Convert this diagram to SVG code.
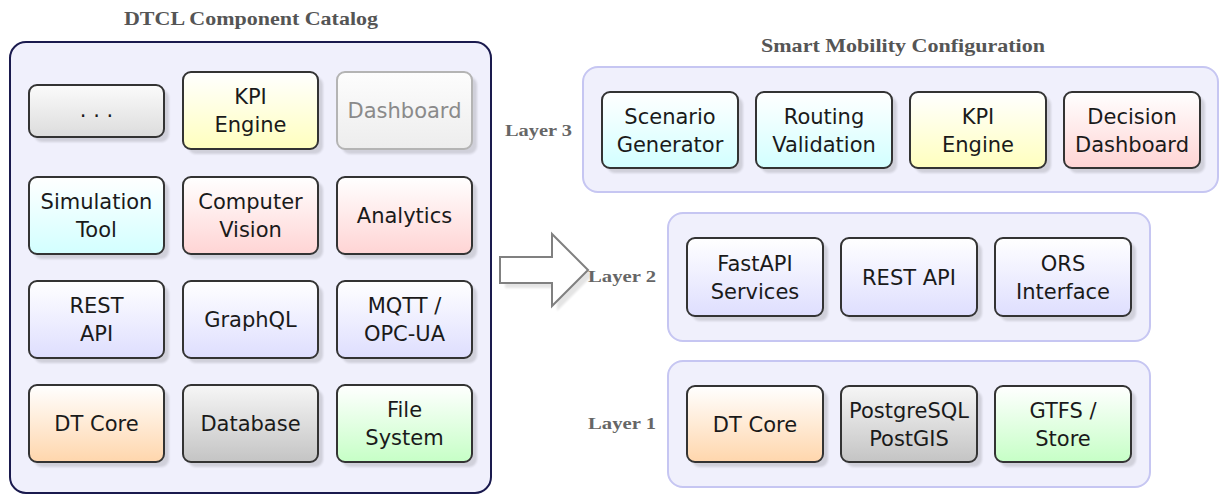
<svg xmlns="http://www.w3.org/2000/svg" width="1228" height="502" viewBox="0 0 1228 502">
<style>
.title{font-family:"Liberation Serif","DejaVu Serif",serif;font-weight:bold;fill:#555;font-size:19px}
.layer{font-family:"Liberation Serif","DejaVu Serif",serif;font-weight:bold;fill:#666;font-size:17px}
.lbl{font-family:"DejaVu Sans","Liberation Sans",sans-serif;font-size:21px;fill:#1a1a1a;text-anchor:middle}
.node{stroke:#333;stroke-width:2}
.shadow{fill:#000;opacity:0.13;filter:url(#blur)}
.box{fill:#f0f0fc;stroke:#c6c6f2;stroke-width:2}
</style>
<defs>
<filter id="blur" x="-10%" y="-10%" width="120%" height="120%"><feGaussianBlur stdDeviation="1.2"/></filter>
<linearGradient id="gGray" x1="0" y1="0" x2="0" y2="1"><stop offset="0" stop-color="#fbfbfb"/><stop offset="1" stop-color="#dcdcdc"/></linearGradient>
<linearGradient id="gYellow" x1="0" y1="0" x2="0" y2="1"><stop offset="0" stop-color="#ffffff"/><stop offset="1" stop-color="#ffffbe"/></linearGradient>
<linearGradient id="gCyan" x1="0" y1="0" x2="0" y2="1"><stop offset="0" stop-color="#ffffff"/><stop offset="1" stop-color="#d2ffff"/></linearGradient>
<linearGradient id="gPink" x1="0" y1="0" x2="0" y2="1"><stop offset="0" stop-color="#ffffff"/><stop offset="1" stop-color="#ffd4d4"/></linearGradient>
<linearGradient id="gLav" x1="0" y1="0" x2="0" y2="1"><stop offset="0" stop-color="#ffffff"/><stop offset="1" stop-color="#dedefe"/></linearGradient>
<linearGradient id="gOrange" x1="0" y1="0" x2="0" y2="1"><stop offset="0" stop-color="#ffffff"/><stop offset="1" stop-color="#ffd6ac"/></linearGradient>
<linearGradient id="gDb" x1="0" y1="0" x2="0" y2="1"><stop offset="0" stop-color="#f6f6f6"/><stop offset="1" stop-color="#c4c4c4"/></linearGradient>
<linearGradient id="gGreen" x1="0" y1="0" x2="0" y2="1"><stop offset="0" stop-color="#ffffff"/><stop offset="1" stop-color="#c6ffc6"/></linearGradient>
<linearGradient id="gDash" x1="0" y1="0" x2="0" y2="1"><stop offset="0" stop-color="#fdfdfd"/><stop offset="1" stop-color="#ededed"/></linearGradient>
</defs>
<rect width="1228" height="502" fill="#ffffff"/>

<!-- Catalog -->
<g id="catalog">
<text class="title" x="251" y="25" text-anchor="middle" textLength="254" lengthAdjust="spacingAndGlyphs">DTCL Component Catalog</text>
<rect x="10" y="42" width="481" height="451" rx="16" fill="#f0f0fc" stroke="#1a1a4e" stroke-width="2"/>
</g>

<g id="cat-dots">
<rect class="shadow" x="34" y="90" width="135" height="52" rx="8"/>
<rect class="node" x="29" y="85" width="135" height="52" rx="8" fill="url(#gGray)"/>
<text class="lbl" x="96.5" y="117">. . .</text>
</g>
<g id="cat-kpi">
<rect class="shadow" x="188" y="77" width="135" height="77" rx="8"/>
<rect class="node" x="183" y="72" width="135" height="77" rx="8" fill="url(#gYellow)"/>
<text class="lbl" x="250.5" y="104">KPI</text><text class="lbl" x="250.5" y="131.5">Engine</text>
</g>
<g id="cat-dashboard">
<rect class="shadow" x="342" y="77" width="135" height="77" rx="8"/>
<rect x="337" y="72" width="135" height="77" rx="8" fill="url(#gDash)" stroke="#b4b4b4" stroke-width="2"/>
<text class="lbl" x="404.5" y="118" fill="#8a8a8a" style="fill:#8a8a8a">Dashboard</text>
</g>

<g id="cat-sim">
<rect class="shadow" x="34" y="182" width="135" height="77" rx="8"/>
<rect class="node" x="29" y="177" width="135" height="77" rx="8" fill="url(#gCyan)"/>
<text class="lbl" x="96.5" y="209">Simulation</text><text class="lbl" x="96.5" y="236.5">Tool</text>
</g>
<g id="cat-cv">
<rect class="shadow" x="188" y="182" width="135" height="77" rx="8"/>
<rect class="node" x="183" y="177" width="135" height="77" rx="8" fill="url(#gPink)"/>
<text class="lbl" x="250.5" y="209">Computer</text><text class="lbl" x="250.5" y="236.5">Vision</text>
</g>
<g id="cat-analytics">
<rect class="shadow" x="342" y="182" width="135" height="77" rx="8"/>
<rect class="node" x="337" y="177" width="135" height="77" rx="8" fill="url(#gPink)"/>
<text class="lbl" x="404.5" y="222.5">Analytics</text>
</g>

<g id="cat-rest">
<rect class="shadow" x="34" y="286" width="135" height="77" rx="8"/>
<rect class="node" x="29" y="281" width="135" height="77" rx="8" fill="url(#gLav)"/>
<text class="lbl" x="96.5" y="313">REST</text><text class="lbl" x="96.5" y="340.5">API</text>
</g>
<g id="cat-graphql">
<rect class="shadow" x="188" y="286" width="135" height="77" rx="8"/>
<rect class="node" x="183" y="281" width="135" height="77" rx="8" fill="url(#gLav)"/>
<text class="lbl" x="250.5" y="326.5">GraphQL</text>
</g>
<g id="cat-mqtt">
<rect class="shadow" x="342" y="286" width="135" height="77" rx="8"/>
<rect class="node" x="337" y="281" width="135" height="77" rx="8" fill="url(#gLav)"/>
<text class="lbl" x="404.5" y="313">MQTT /</text><text class="lbl" x="404.5" y="340.5">OPC-UA</text>
</g>

<g id="cat-dtcore">
<rect class="shadow" x="34" y="390" width="135" height="77" rx="8"/>
<rect class="node" x="29" y="385" width="135" height="77" rx="8" fill="url(#gOrange)"/>
<text class="lbl" x="96.5" y="431">DT Core</text>
</g>
<g id="cat-db">
<rect class="shadow" x="188" y="390" width="135" height="77" rx="8"/>
<rect class="node" x="183" y="385" width="135" height="77" rx="8" fill="url(#gDb)"/>
<text class="lbl" x="250.5" y="431">Database</text>
</g>
<g id="cat-fs">
<rect class="shadow" x="342" y="390" width="135" height="77" rx="8"/>
<rect class="node" x="337" y="385" width="135" height="77" rx="8" fill="url(#gGreen)"/>
<text class="lbl" x="404.5" y="417">File</text><text class="lbl" x="404.5" y="444.5">System</text>
</g>

<!-- Connectors -->
<g id="connectors">
<polygon points="505,262 557,262 557,239 593,275 557,311 557,288 505,288" fill="#000" opacity="0.1" filter="url(#blur)"/>
<polygon points="500,257 552,257 552,234 588,270 552,306 552,283 500,283" fill="#ffffff" stroke="#808080" stroke-width="2" stroke-linejoin="miter"/>
</g>

<!-- Smart Mobility Configuration -->
<g id="config">
<text class="title" x="903" y="52" text-anchor="middle" textLength="284" lengthAdjust="spacingAndGlyphs">Smart Mobility Configuration</text>
</g>

<g id="layer3">
<rect class="box" x="583" y="67" width="635" height="125" rx="15"/>
<text class="layer" x="505" y="136" textLength="67" lengthAdjust="spacingAndGlyphs">Layer 3</text>
</g>
<g id="l3-scenario">
<rect class="shadow" x="607" y="97" width="136" height="76" rx="8"/>
<rect class="node" x="602" y="92" width="136" height="76" rx="8" fill="url(#gCyan)"/>
<text class="lbl" x="670" y="124">Scenario</text><text class="lbl" x="670" y="152">Generator</text>
</g>
<g id="l3-routing">
<rect class="shadow" x="761" y="97" width="136" height="76" rx="8"/>
<rect class="node" x="756" y="92" width="136" height="76" rx="8" fill="url(#gCyan)"/>
<text class="lbl" x="824" y="124">Routing</text><text class="lbl" x="824" y="152">Validation</text>
</g>
<g id="l3-kpi">
<rect class="shadow" x="915" y="97" width="136" height="76" rx="8"/>
<rect class="node" x="910" y="92" width="136" height="76" rx="8" fill="url(#gYellow)"/>
<text class="lbl" x="978" y="124">KPI</text><text class="lbl" x="978" y="152">Engine</text>
</g>
<g id="l3-decision">
<rect class="shadow" x="1069" y="97" width="136" height="76" rx="8"/>
<rect class="node" x="1064" y="92" width="136" height="76" rx="8" fill="url(#gPink)"/>
<text class="lbl" x="1132" y="124">Decision</text><text class="lbl" x="1132" y="152">Dashboard</text>
</g>

<g id="layer2">
<rect class="box" x="668" y="213" width="482" height="128" rx="15"/>
<text class="layer" x="588" y="282" textLength="68" lengthAdjust="spacingAndGlyphs">Layer 2</text>
</g>
<g id="l2-fastapi">
<rect class="shadow" x="692" y="243" width="136" height="78" rx="8"/>
<rect class="node" x="687" y="238" width="136" height="78" rx="8" fill="url(#gLav)"/>
<text class="lbl" x="755" y="271">FastAPI</text><text class="lbl" x="755" y="299">Services</text>
</g>
<g id="l2-rest">
<rect class="shadow" x="846" y="243" width="136" height="78" rx="8"/>
<rect class="node" x="841" y="238" width="136" height="78" rx="8" fill="url(#gLav)"/>
<text class="lbl" x="909" y="284.5">REST API</text>
</g>
<g id="l2-ors">
<rect class="shadow" x="1000" y="243" width="136" height="78" rx="8"/>
<rect class="node" x="995" y="238" width="136" height="78" rx="8" fill="url(#gLav)"/>
<text class="lbl" x="1063" y="271">ORS</text><text class="lbl" x="1063" y="299">Interface</text>
</g>

<g id="layer1">
<rect class="box" x="668" y="361" width="482" height="126" rx="15"/>
<text class="layer" x="588" y="429" textLength="68" lengthAdjust="spacingAndGlyphs">Layer 1</text>
</g>
<g id="l1-dtcore">
<rect class="shadow" x="692" y="391" width="136" height="76" rx="8"/>
<rect class="node" x="687" y="386" width="136" height="76" rx="8" fill="url(#gOrange)"/>
<text class="lbl" x="755" y="431.5">DT Core</text>
</g>
<g id="l1-postgres">
<rect class="shadow" x="846" y="391" width="136" height="76" rx="8"/>
<rect class="node" x="841" y="386" width="136" height="76" rx="8" fill="url(#gDb)"/>
<text class="lbl" x="909" y="418">PostgreSQL</text><text class="lbl" x="909" y="446">PostGIS</text>
</g>
<g id="l1-gtfs">
<rect class="shadow" x="1000" y="391" width="136" height="76" rx="8"/>
<rect class="node" x="995" y="386" width="136" height="76" rx="8" fill="url(#gGreen)"/>
<text class="lbl" x="1063" y="418">GTFS /</text><text class="lbl" x="1063" y="446">Store</text>
</g>
</svg>
